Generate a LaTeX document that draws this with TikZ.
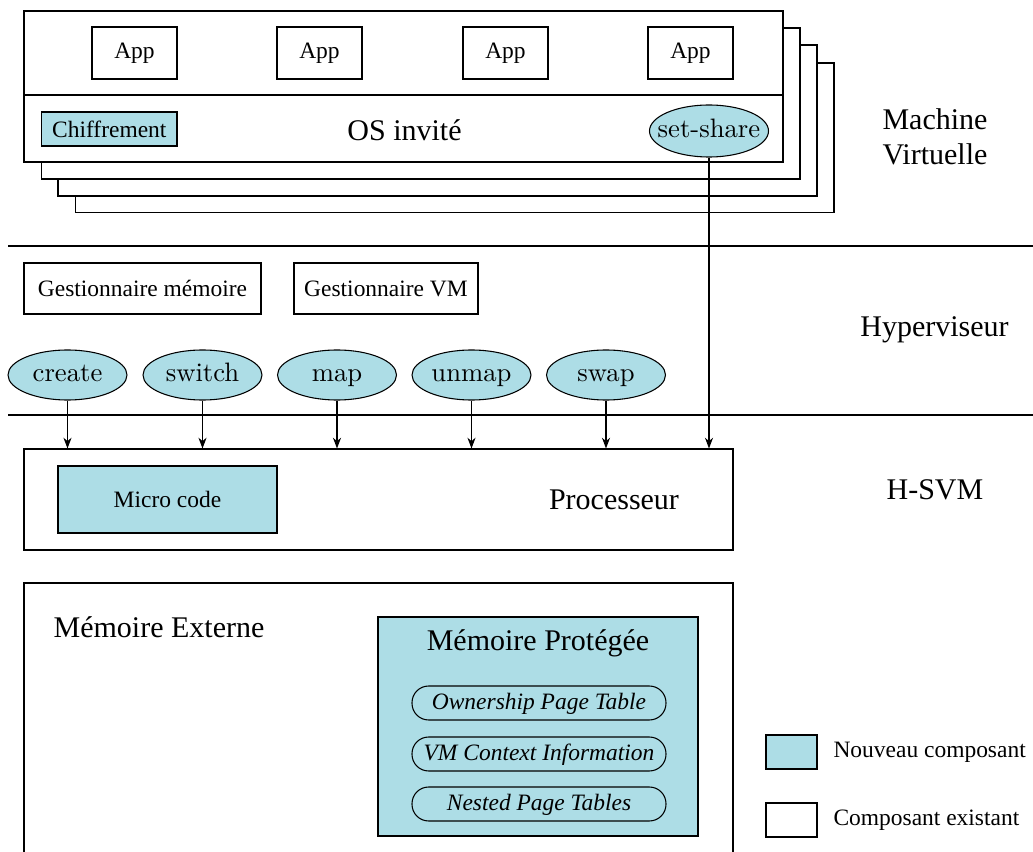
\documentclass[tikz,border=0pt]{standalone}
\usepackage{fontspec}
\setmainfont{Liberation Serif}
\newfontfamily\lmfont{lmroman10-regular.otf}
\usetikzlibrary{shapes.geometric,arrows.meta}
\definecolor{newcomp}{RGB}{173,221,230}
\tikzset{
  smallfont/.style={font=\fontsize{17.6}{21}\selectfont},
  bigfont/.style={font=\fontsize{22.5}{26}\selectfont},
  plainbox/.style={draw, rectangle, inner sep=0pt, fill=white, smallfont},
  newbox/.style={draw, rectangle, inner sep=0pt, fill=newcomp, smallfont},
  callell/.style={draw, ellipse, inner sep=0pt, fill=newcomp, minimum width=89.25pt, minimum height=37.5pt, text height=14pt, text depth=3.5pt, font=\lmfont\fontsize{20}{23}\selectfont},
  tablebox/.style={draw, rectangle, rounded corners=12.5pt, inner sep=0pt, minimum width=190.5pt, minimum height=25.5pt, text height=12.5pt, text depth=3.5pt, font=\fontsize{17.6}{21}\selectfont\itshape},
  layerlabel/.style={bigfont, align=center},
  call/.style={-{Stealth[length=8pt,width=6pt,inset=2.5pt]}},
}
\begin{document}
\begin{tikzpicture}[x=0.75pt,y=-0.75pt,line width=0.8pt]
\useasboundingbox (0,0) rectangle (1033,852);
% VM stack
\draw[fill=white] (75.7,63) rectangle (834,212.7);
\draw[fill=white] (58,45) rectangle (817,196);
\draw[fill=white] (41.7,28) rectangle (800,179);
\node[plainbox, minimum width=569.25pt, minimum height=113.25pt] (vm) at (403.5,86.5) {};
\draw (vm.west |- 0,95) -- (vm.east |- 0,95);
\foreach \i/\x in {1/134.5,2/319.5,3/505.5,4/690.5}
  \node[plainbox, minimum width=63.75pt, minimum height=39pt] (app\i) at (\x,53) {App};
\node[newbox, minimum width=101.5pt, minimum height=25.5pt] (chiff) at (109.3,129) {Chiffrement};
\node[bigfont] (os) at (404.5,130) {OS invité};
\node[callell, inner xsep=-7.5pt, minimum height=39pt] (ss) at (709,131) {set-share};
\node[layerlabel] (lvm) at (935,137) {Machine\\Virtuelle};
% layer separators
\coordinate (l1a) at (8,246); \coordinate (l1b) at (1033,246);
\coordinate (l2a) at (8,415); \coordinate (l2b) at (1033,415);
\draw (l1a) -- (l1b);
\draw (l2a) -- (l2b);
% hypervisor
\node[plainbox, minimum width=177.75pt, minimum height=38.25pt] (gm) at (142.5,288.5) {Gestionnaire mémoire};
\node[plainbox, minimum width=138pt, minimum height=38.25pt] (gvm) at (386,288.5) {Gestionnaire VM};
\node[layerlabel] (lhyp) at (934.5,330) {Hyperviseur};
\node[callell] (create) at (67.5,375) {create};
\node[callell] (switch) at (202.5,375) {switch};
\node[callell] (map) at (337,375) {map};
\node[callell] (unmap) at (471.5,375) {unmap};
\node[callell] (swap) at (606,375) {swap};
% processor
\node[plainbox, minimum width=531.75pt, minimum height=75.75pt] (proc) at (378.5,499.5) {};
\node[newbox, minimum width=164.25pt, minimum height=50.25pt] (mc) at (167.5,499.5) {Micro code};
\node[bigfont] (proctxt) at (614,500) {Processeur};
\node[layerlabel] (lhsvm) at (935,490) {H-SVM};
\foreach \n in {create,switch,map,unmap,swap,ss}
  \draw[call] (\n.south) -- (\n.south |- proc.north);
% external memory
\coordinate (me1) at (24,870); \coordinate (me2) at (24,583);
\coordinate (me3) at (733,583); \coordinate (me4) at (733,870);
\draw (me1) -- (me2) -- (me3) -- (me4);
\node[bigfont] (metxt) at (159,627) {Mémoire Externe};
\node[newbox, minimum width=240pt, minimum height=164.25pt] (mp) at (538,726.5) {};
\node[bigfont] (mptxt) at (538,643) {Mémoire Protégée};
\node[tablebox] (opt) at (539,703) {Ownership Page Table};
\node[tablebox] (vci) at (539,754) {VM Context Information};
\node[tablebox] (npt) at (539,804) {Nested Page Tables};
% legend
\node[newbox, minimum width=38.25pt, minimum height=25.5pt] (lgnew) at (791.5,752) {};
\node[smallfont, anchor=west, inner sep=0pt] (lgnewtxt) at (833,752) {Nouveau composant};
\node[plainbox, minimum width=38.25pt, minimum height=25.5pt] (lgold) at (791.5,820) {};
\node[smallfont, anchor=west, inner sep=0pt] (lgoldtxt) at (833,820) {Composant existant};
\end{tikzpicture}
\end{document}
